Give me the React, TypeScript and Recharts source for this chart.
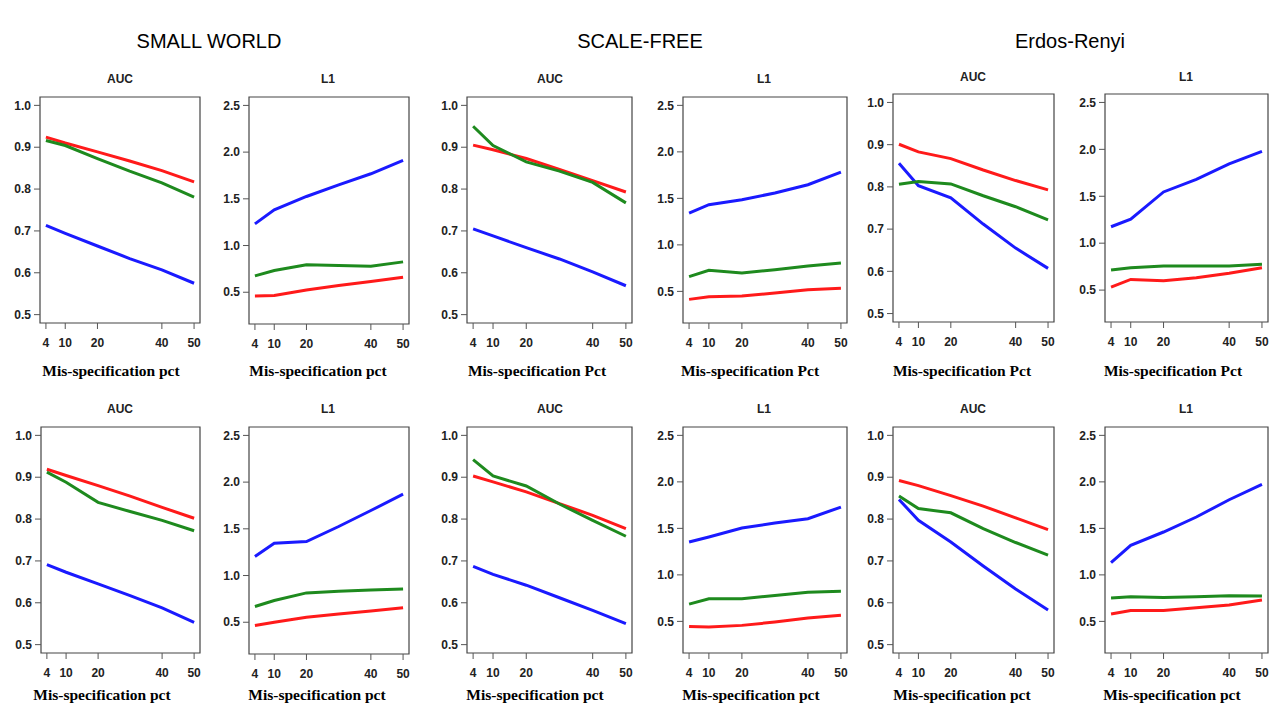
import React from "react";
import { LineChart, Line, XAxis, YAxis, ReferenceArea } from "recharts";

// ---- data ----
const PCT = [4, 10, 20, 30, 40, 50];
const X_TICKS = [4, 10, 20, 40, 50];
const AUC_TICKS = [0.5, 0.6, 0.7, 0.8, 0.9, 1.0];
const L1_TICKS = [0.5, 1.0, 1.5, 2.0, 2.5];
const GROUP_TITLES = ["SMALL WORLD", "SCALE-FREE", "Erdos-Renyi"];

// top row
const swAucTopRed = [0.924, 0.91, 0.889, 0.867, 0.844, 0.817];
const swAucTopGreen = [0.916, 0.904, 0.873, 0.843, 0.815, 0.781];
const swAucTopBlue = [0.713, 0.694, 0.664, 0.634, 0.607, 0.575];

const swL1TopRed = [0.461, 0.464, 0.525, 0.571, 0.614, 0.661];
const swL1TopGreen = [0.675, 0.732, 0.793, 0.786, 0.779, 0.825];
const swL1TopBlue = [1.232, 1.382, 1.525, 1.65, 1.768, 1.911];

const sfAucTopRed = [0.905, 0.894, 0.873, 0.847, 0.82, 0.793];
const sfAucTopGreen = [0.95, 0.904, 0.865, 0.843, 0.816, 0.767];
const sfAucTopBlue = [0.705, 0.688, 0.66, 0.633, 0.602, 0.569];

const sfL1TopRed = [0.414, 0.443, 0.45, 0.482, 0.518, 0.533];
const sfL1TopGreen = [0.658, 0.726, 0.697, 0.733, 0.772, 0.805];
const sfL1TopBlue = [1.342, 1.432, 1.486, 1.557, 1.647, 1.783];

const erAucTopRed = [0.901, 0.883, 0.867, 0.84, 0.815, 0.793];
const erAucTopGreen = [0.806, 0.813, 0.807, 0.779, 0.753, 0.722];
const erAucTopBlue = [0.856, 0.803, 0.774, 0.712, 0.655, 0.607];

const erL1TopRed = [0.532, 0.614, 0.6, 0.632, 0.679, 0.739];
const erL1TopGreen = [0.714, 0.739, 0.757, 0.757, 0.757, 0.775];
const erL1TopBlue = [1.175, 1.257, 1.546, 1.679, 1.846, 1.979];

// bottom row
const swAucBotRed = [0.919, 0.904, 0.88, 0.855, 0.828, 0.802];
const swAucBotGreen = [0.912, 0.888, 0.84, 0.818, 0.797, 0.772];
const swAucBotBlue = [0.691, 0.673, 0.645, 0.617, 0.588, 0.553];

const swL1BotRed = [0.464, 0.5, 0.554, 0.589, 0.621, 0.654];
const swL1BotGreen = [0.668, 0.732, 0.814, 0.832, 0.846, 0.857];
const swL1BotBlue = [1.204, 1.346, 1.364, 1.525, 1.696, 1.871];

const sfAucBotRed = [0.903, 0.889, 0.865, 0.837, 0.809, 0.777];
const sfAucBotGreen = [0.942, 0.903, 0.879, 0.836, 0.797, 0.759];
const sfAucBotBlue = [0.687, 0.668, 0.642, 0.612, 0.582, 0.55];

const sfL1BotRed = [0.446, 0.439, 0.457, 0.493, 0.536, 0.565];
const sfL1BotGreen = [0.686, 0.744, 0.744, 0.778, 0.812, 0.823];
const sfL1BotBlue = [1.353, 1.407, 1.504, 1.557, 1.604, 1.729];

const erAucBotRed = [0.892, 0.88, 0.856, 0.831, 0.803, 0.775];
const erAucBotGreen = [0.855, 0.825, 0.815, 0.777, 0.744, 0.714];
const erAucBotBlue = [0.847, 0.797, 0.745, 0.688, 0.633, 0.583];

const erL1BotRed = [0.579, 0.618, 0.618, 0.647, 0.676, 0.729];
const erL1BotGreen = [0.751, 0.765, 0.758, 0.765, 0.776, 0.772];
const erL1BotBlue = [1.131, 1.317, 1.461, 1.622, 1.808, 1.973];

// ---- styles / layout ----
const RED = "#ff1a1a";
const GREEN = "#1e8a1e";
const BLUE = "#1a1aff";
const X_DOMAIN: [number, number] = [2.16, 51.84];
const AUC_DOMAIN: [number, number] = [0.48, 1.02];
const L1_DOMAIN: [number, number] = [0.16, 2.59];

type PanelDef = {
  metric: "AUC" | "L1";
  red: number[];
  green: number[];
  blue: number[];
  box: [number, number, number, number]; // l, t, r, b
  titleX: number;
  titleY: number;
  label: string;
  labelX: number;
  labelY: number;
};

const panels: PanelDef[] = [
  { metric: "AUC", red: swAucTopRed, green: swAucTopGreen, blue: swAucTopBlue, box: [40, 97, 200, 323], titleX: 120, titleY: 79, label: "Mis-specification pct", labelX: 111, labelY: 371 },
  { metric: "L1", red: swL1TopRed, green: swL1TopGreen, blue: swL1TopBlue, box: [249, 97, 409, 324], titleX: 328, titleY: 79, label: "Mis-specification pct", labelX: 318, labelY: 371 },
  { metric: "AUC", red: sfAucTopRed, green: sfAucTopGreen, blue: sfAucTopBlue, box: [467, 97, 632, 323], titleX: 550, titleY: 79, label: "Mis-specification Pct", labelX: 537, labelY: 371 },
  { metric: "L1", red: sfL1TopRed, green: sfL1TopGreen, blue: sfL1TopBlue, box: [683, 97, 847, 323], titleX: 764, titleY: 79, label: "Mis-specification Pct", labelX: 750, labelY: 371 },
  { metric: "AUC", red: erAucTopRed, green: erAucTopGreen, blue: erAucTopBlue, box: [893, 94, 1054, 322], titleX: 973, titleY: 77, label: "Mis-specification Pct", labelX: 962, labelY: 371 },
  { metric: "L1", red: erL1TopRed, green: erL1TopGreen, blue: erL1TopBlue, box: [1105, 94, 1268, 322], titleX: 1186, titleY: 77, label: "Mis-specification Pct", labelX: 1173, labelY: 371 },
  { metric: "AUC", red: swAucBotRed, green: swAucBotGreen, blue: swAucBotBlue, box: [41, 427, 200, 653], titleX: 120, titleY: 409, label: "Mis-specification pct", labelX: 102, labelY: 695 },
  { metric: "L1", red: swL1BotRed, green: swL1BotGreen, blue: swL1BotBlue, box: [249, 427, 409, 654], titleX: 328, titleY: 409, label: "Mis-specification pct", labelX: 317, labelY: 695 },
  { metric: "AUC", red: sfAucBotRed, green: sfAucBotGreen, blue: sfAucBotBlue, box: [467, 427, 632, 653], titleX: 550, titleY: 409, label: "Mis-specification pct", labelX: 535, labelY: 695 },
  { metric: "L1", red: sfL1BotRed, green: sfL1BotGreen, blue: sfL1BotBlue, box: [683, 427, 847, 653], titleX: 764, titleY: 409, label: "Mis-specification pct", labelX: 751, labelY: 695 },
  { metric: "AUC", red: erAucBotRed, green: erAucBotGreen, blue: erAucBotBlue, box: [893, 427, 1054, 653], titleX: 973, titleY: 409, label: "Mis-specification pct", labelX: 962, labelY: 695 },
  { metric: "L1", red: erL1BotRed, green: erL1BotGreen, blue: erL1BotBlue, box: [1105, 427, 1268, 653], titleX: 1186, titleY: 409, label: "Mis-specification pct", labelX: 1172, labelY: 695 },
];

const groupTitlePos = [
  { x: 209, y: 41 },
  { x: 640, y: 41 },
  { x: 1070, y: 41 },
];

const tickStyle = {
  fontFamily: "'Liberation Sans', Arial, sans-serif",
  fontSize: 12,
  fontWeight: 700,
  fill: "#222",
};

const PAD_L = 45;
const PAD_R = 4;
const PAD_T = 4;
const PAD_B = 32;

function Panel({ p }: { p: PanelDef }) {
  const [l, t, r, b] = p.box;
  const w = r - l;
  const h = b - t;
  const rows = PCT.map((x, i) => ({ x, red: p.red[i], green: p.green[i], blue: p.blue[i] }));
  const dom = p.metric === "AUC" ? AUC_DOMAIN : L1_DOMAIN;
  const ticks = p.metric === "AUC" ? AUC_TICKS : L1_TICKS;
  return (
    <>
      <div style={{ position: "absolute", left: l - PAD_L, top: t - PAD_T }}>
        <LineChart
          width={w + PAD_L + PAD_R}
          height={h + PAD_T + PAD_B}
          data={rows}
          margin={{ top: PAD_T, right: PAD_R, left: 0, bottom: 0 }}
        >
          <XAxis
            dataKey="x"
            type="number"
            domain={X_DOMAIN}
            ticks={X_TICKS}
            interval={0}
            allowDataOverflow
            axisLine={false}
            tickLine={{ stroke: "#555" }}
            tickSize={6}
            tickMargin={9}
            height={PAD_B}
            tick={tickStyle}
          />
          <YAxis
            type="number"
            domain={dom}
            ticks={ticks}
            interval={0}
            allowDataOverflow
            axisLine={false}
            tickLine={{ stroke: "#555" }}
            tickSize={6}
            tickMargin={3}
            width={PAD_L}
            tick={tickStyle}
            tickFormatter={(v: number) => v.toFixed(1)}
          />
          <ReferenceArea
            x1={X_DOMAIN[0]}
            x2={X_DOMAIN[1]}
            y1={dom[0]}
            y2={dom[1]}
            fill="none"
            fillOpacity={0}
            stroke="#444"
            strokeWidth={1.2}
            ifOverflow="visible"
          />
          <Line dataKey="blue" type="linear" stroke={BLUE} strokeWidth={3} dot={false} isAnimationActive={false} />
          <Line dataKey="red" type="linear" stroke={RED} strokeWidth={3} dot={false} isAnimationActive={false} />
          <Line dataKey="green" type="linear" stroke={GREEN} strokeWidth={3} dot={false} isAnimationActive={false} />
        </LineChart>
      </div>
      <div
        style={{
          position: "absolute",
          left: p.titleX - 40,
          width: 80,
          top: p.titleY - 8,
          textAlign: "center",
          fontFamily: "'Liberation Sans', Arial, sans-serif",
          fontWeight: 700,
          fontSize: 12,
          lineHeight: "16px",
          color: "#222",
        }}
      >
        {p.metric}
      </div>
      <div
        style={{
          position: "absolute",
          left: p.labelX - 100,
          width: 200,
          top: p.labelY - 10,
          textAlign: "center",
          fontFamily: "'Liberation Serif', 'Times New Roman', serif",
          fontWeight: 700,
          fontSize: 15.5,
          lineHeight: "20px",
          color: "#000",
          whiteSpace: "nowrap",
        }}
      >
        {p.label}
      </div>
    </>
  );
}

export default function App() {
  return (
    <div style={{ position: "absolute", left: 0, top: 0, width: 1280, height: 720, background: "#fff", overflow: "hidden" }}>
      {GROUP_TITLES.map((g, i) => (
        <div
          key={g}
          style={{
            position: "absolute",
            left: groupTitlePos[i].x - 150,
            width: 300,
            top: groupTitlePos[i].y - 12,
            textAlign: "center",
            fontFamily: "'Liberation Sans', Arial, sans-serif",
            fontSize: 20,
            lineHeight: "24px",
            color: "#000",
          }}
        >
          {g}
        </div>
      ))}
      {panels.map((p, i) => (
        <Panel key={i} p={p} />
      ))}
    </div>
  );
}
